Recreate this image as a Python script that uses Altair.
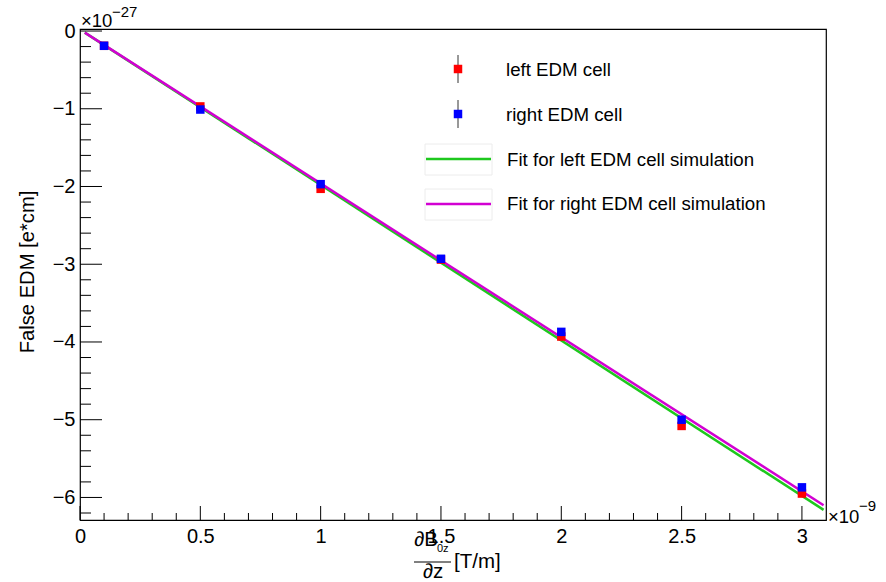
import altair as alt
import pandas as pd

FONT = "Liberation Sans"

# ---- data ----
x_pts = [0.1, 0.5, 1.0, 1.5, 2.0, 2.5, 3.0]
left_edm = [-0.19, -0.97, -2.03, -2.94, -3.93, -5.08, -5.95]
right_edm = [-0.19, -1.01, -1.97, -2.93, -3.87, -5.00, -5.87]

fit_x = [0.02, 3.09]
fit_left = [-0.02, -6.16]
fit_right = [-0.02, -6.10]

x_major = [0, 0.5, 1, 1.5, 2, 2.5, 3]
y_major = [0, -1, -2, -3, -4, -5, -6]
x_minor = [i / 10 for i in range(1, 31) if i % 5]
y_minor = [-i / 5 for i in range(1, 32) if i % 5]

# ---- layout ----
PAD_L, PAD_T, PAD_R, PAD_B = 80, 29, 60, 62
W, H = 746, 491

xs = alt.Scale(domain=[0, 3.1], nice=False, zero=False)
ys = alt.Scale(domain=[-6.29, 0.026], nice=False, zero=False)

one = pd.DataFrame({"a": [0]})

pts_left = pd.DataFrame({"x": x_pts, "y": left_edm})
pts_right = pd.DataFrame({"x": x_pts, "y": right_edm})
fl = pd.DataFrame({"x": fit_x, "y": fit_left})
fr = pd.DataFrame({"x": fit_x, "y": fit_right})

xaxis = alt.Axis(values=x_major, ticks=False, domain=False, grid=False,
                 labelFontSize=20, labelFont=FONT, labelColor="black",
                 labelPadding=6, labelFlush=False, labelOverlap=False,
                 format="~g", title=None)
yaxis = alt.Axis(values=y_major, ticks=False, domain=False, grid=False,
                 labelFontSize=20, labelFont=FONT, labelColor="black",
                 labelPadding=5, labelFlush=False, labelOverlap=False,
                 format="~g", title=None)

X = alt.X("x:Q", scale=xs, axis=xaxis)
Y = alt.Y("y:Q", scale=ys, axis=yaxis)

line_left = alt.Chart(fl).mark_line(color="#1ec81e", strokeWidth=2.5).encode(x=X, y=Y)
line_right = alt.Chart(fr).mark_line(color="#d200d2", strokeWidth=2.5).encode(x=X, y=Y)

sq_left = alt.Chart(pts_left).mark_square(color="#ff0000", size=72, opacity=1).encode(x=X, y=Y)
sq_right = alt.Chart(pts_right).mark_square(color="#0000ff", size=72, opacity=1).encode(x=X, y=Y)

# ticks (inside the frame, ROOT style)
ymaj = alt.Chart(pd.DataFrame({"y": y_major})).mark_rule(color="black", strokeWidth=1).encode(
    y=alt.Y("y:Q", scale=ys), x=alt.value(0), x2=alt.value(22))
ymin = alt.Chart(pd.DataFrame({"y": y_minor})).mark_rule(color="black", strokeWidth=1).encode(
    y=alt.Y("y:Q", scale=ys), x=alt.value(0), x2=alt.value(11))
xmaj = alt.Chart(pd.DataFrame({"x": x_major})).mark_rule(color="black", strokeWidth=1).encode(
    x=alt.X("x:Q", scale=xs), y=alt.value(H), y2=alt.value(H - 14))
xmin = alt.Chart(pd.DataFrame({"x": x_minor})).mark_rule(color="black", strokeWidth=1).encode(
    x=alt.X("x:Q", scale=xs), y=alt.value(H), y2=alt.value(H - 7))


def txt(s, x, y, size, align="left", angle=0, baseline="middle"):
    return alt.Chart(one).mark_text(
        text=s, fontSize=size, font=FONT, align=align, baseline=baseline,
        angle=angle, color="black"
    ).encode(x=alt.value(x - PAD_L), y=alt.value(y - PAD_T))


def rule(x1, y1, x2, y2, color, width=1.0):
    return alt.Chart(one).mark_rule(color=color, strokeWidth=width).encode(
        x=alt.value(x1 - PAD_L), x2=alt.value(x2 - PAD_L),
        y=alt.value(y1 - PAD_T), y2=alt.value(y2 - PAD_T))


def box(x1, y1, x2, y2):
    return alt.Chart(one).mark_rect(fill="white", stroke="#ececec", strokeWidth=1).encode(
        x=alt.value(x1 - PAD_L), x2=alt.value(x2 - PAD_L),
        y=alt.value(y1 - PAD_T), y2=alt.value(y2 - PAD_T))


def marker(x, y, color):
    return alt.Chart(one).mark_square(color=color, size=72, opacity=1).encode(
        x=alt.value(x - PAD_L), y=alt.value(y - PAD_T))


LEG = 18.7
legend = [
    rule(458, 55, 458, 83, "#333333"),
    marker(458, 69, "#ff0000"),
    txt("left EDM cell", 506, 70, LEG),
    rule(458, 100, 458, 128, "#333333"),
    marker(458, 114, "#0000ff"),
    txt("right EDM cell", 506, 115, LEG),
    box(425, 144, 492, 175),
    rule(426, 159, 491, 159, "#1ec81e", 2.5),
    txt("Fit for left EDM cell simulation", 507, 160, LEG),
    box(425, 189, 492, 220),
    rule(426, 204, 491, 204, "#d200d2", 2.5),
    txt("Fit for right EDM cell simulation", 507, 204, LEG),
]

annotations = [
    txt("\u00d710", 81, 21, 18.5),
    txt("\u221227", 112, 12, 15),
    txt("\u00d710", 828, 517, 18.5),
    txt("\u22129", 859, 506, 15),
    txt("False EDM [e*cm]", 28, 272, 20.2, align="center", angle=270),
    txt("\u2202B", 414, 540, 20.5),
    txt("0z", 437, 549, 11),
    rule(414, 562, 451, 562, "black", 1),
    txt("\u2202z", 433, 572, 20.5, align="center"),
    txt("[T/m]", 454, 562, 20.5),
]

chart = alt.layer(
    line_left, line_right, sq_left, sq_right,
    ymaj, ymin, xmaj, xmin,
    *legend, *annotations
).properties(
    width=W, height=H,
    autosize=alt.AutoSizeParams(type="none"),
    padding={"left": PAD_L, "top": PAD_T, "right": PAD_R, "bottom": PAD_B},
    background="white",
).configure_view(stroke="black", strokeWidth=1.2)

chart.save("out.html", embed_options={"renderer": "svg", "actions": False})
